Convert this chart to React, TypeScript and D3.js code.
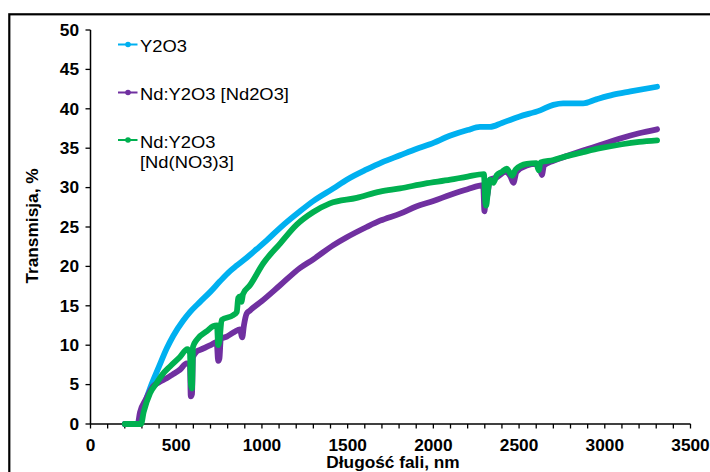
import React from "react";
import * as d3 from "d3";

const blueWl = [200, 280, 300, 347, 400, 445, 483, 540, 580, 639, 700, 755, 814, 853, 911, 970, 1028, 1106, 1222, 1300, 1417, 1495, 1611, 1700, 1806, 1900, 1980, 2100, 2200, 2272, 2330, 2400, 2500, 2623, 2700, 2757, 2874, 2950, 3050, 3150, 3305];
const blueT = [0, 0, 1.5, 4.5, 7.3, 9.6, 11.2, 13.1, 14.2, 15.5, 16.8, 18.1, 19.4, 20.1, 21.1, 22.2, 23.3, 24.9, 27.0, 28.3, 29.9, 31.0, 32.3, 33.2, 34.1, 34.9, 35.5, 36.6, 37.3, 37.7, 37.7, 38.2, 39.0, 39.8, 40.5, 40.7, 40.7, 41.2, 41.8, 42.2, 42.8];

const purpleWl = [200, 275, 289, 320, 366, 400, 444, 480, 522, 561, 580, 585, 592, 598, 620, 639, 700, 736, 745, 752, 760, 795, 840, 872, 885, 895, 911, 930, 1000, 1106, 1222, 1300, 1417, 1495, 1611, 1689, 1806, 1900, 2000, 2100, 2200, 2291, 2298, 2305, 2315, 2330, 2370, 2420, 2450, 2467, 2485, 2545, 2600, 2620, 2633, 2645, 2700, 2778, 2873, 2973, 3100, 3200, 3305];
const purpleT = [0, 0, 1.5, 3.0, 4.8, 5.3, 5.8, 6.3, 6.9, 7.7, 7.5, 3.5, 3.8, 8.5, 9.2, 9.4, 10.0, 10.4, 8.0, 8.3, 10.8, 11.1, 11.7, 12.0, 11.0, 12.5, 14.0, 14.4, 15.6, 17.6, 19.8, 20.9, 22.7, 23.7, 25.0, 25.8, 26.7, 27.6, 28.3, 29.1, 29.8, 30.3, 27.0, 28.5, 29.0, 31.0, 31.3, 32.0, 31.4, 30.6, 32.0, 32.8, 33.0, 32.5, 31.6, 32.8, 33.4, 34.0, 34.7, 35.4, 36.3, 36.9, 37.4];

const greenWl = [200, 295, 310, 347, 386, 420, 464, 522, 565, 580, 586, 592, 598, 620, 680, 715, 738, 745, 752, 765, 832, 853, 862, 872, 880, 890, 930, 1008, 1106, 1203, 1300, 1397, 1553, 1689, 1806, 1950, 2100, 2200, 2295, 2302, 2308, 2318, 2330, 2350, 2370, 2400, 2428, 2460, 2480, 2545, 2600, 2615, 2625, 2700, 2778, 2873, 2973, 3100, 3200, 3305];
const greenT = [0, 0, 1.5, 3.9, 5.2, 6.3, 7.3, 8.5, 9.5, 9.0, 5.0, 4.5, 9.8, 10.7, 11.8, 12.4, 12.5, 10.0, 10.5, 13.2, 13.8, 14.2, 16.0, 16.2, 15.5, 16.5, 17.6, 20.4, 22.9, 25.3, 26.9, 28.0, 28.7, 29.5, 29.9, 30.5, 31.0, 31.4, 31.7, 28.5, 27.7, 29.5, 31.0, 30.6, 31.6, 32.0, 32.4, 31.5, 32.3, 33.0, 33.1, 32.2, 33.2, 33.5, 34.0, 34.5, 35.0, 35.5, 35.8, 36.0];

const seriesNames = ["Y2O3", "Nd:Y2O3 [Nd2O3]", "Nd:Y2O3 [Nd(NO3)3]"];
const seriesColors = ["#00B0F0", "#7030A0", "#00B050"];
const xTicks = [0, 500, 1000, 1500, 2000, 2500, 3000, 3500];
const yTicks = [0, 5, 10, 15, 20, 25, 30, 35, 40, 45, 50];
const xTitle = "Długość fali, nm";
const yTitle = "Transmisja, %";

export default function App() {
  const x = d3.scaleLinear().domain([0, 3500]).range([90.5, 690.5]);
  const y = d3.scaleLinear().domain([0, 50]).range([424, 30]);
  const line = d3
    .line<[number, number]>()
    .x((d) => x(d[0]))
    .y((d) => y(d[1]))
    .curve(d3.curveMonotoneX);
  const series = [
    d3.zip(blueWl, blueT) as [number, number][],
    d3.zip(purpleWl, purpleT) as [number, number][],
    d3.zip(greenWl, greenT) as [number, number][],
  ];
  const minor = d3.range(0, 3501, 100);
  const font = "'Liberation Sans', Arial, sans-serif";
  const sx = 1.08;

  return (
    <svg
      width={710}
      height={472}
      style={{ position: "absolute", left: 0, top: 0, background: "#fff" }}
      fontFamily={font}
    >
      <rect x={0} y={0} width={710} height={472} fill="#fff" />
      <rect x={9.3} y={14.3} width={760} height={520} fill="none" stroke="#000" strokeWidth={2.2} />

      {/* x axis */}
      <line x1={x(0)} x2={x(3500)} y1={y(0)} y2={y(0)} stroke="#000" strokeWidth={1.5} />
      {minor.map((t) => (
        <line key={"m" + t} x1={x(t)} x2={x(t)} y1={y(0)} y2={y(0) + 4.5} stroke="#000" strokeWidth={1.3} />
      ))}
      {xTicks.map((t) => (
        <text
          key={"xt" + t}
          transform={`translate(${x(t)},451) scale(${sx},1)`}
          textAnchor="middle"
          fontSize={16}
          fontWeight="bold"
          fill="#000"
        >
          {t}
        </text>
      ))}

      {/* y axis */}
      <line x1={x(0)} x2={x(0)} y1={y(0)} y2={y(50)} stroke="#000" strokeWidth={1.5} />
      {yTicks.map((t) => (
        <g key={"yt" + t}>
          <line x1={x(0) - 5} x2={x(0)} y1={y(t)} y2={y(t)} stroke="#000" strokeWidth={1.3} />
          <text
            transform={`translate(79,${y(t) + 5.7}) scale(${sx},1)`}
            textAnchor="end"
            fontSize={16}
            fontWeight="bold"
            fill="#000"
          >
            {t}
          </text>
        </g>
      ))}

      {/* axis titles */}
      <text
        transform={`translate(393,468) scale(${sx},1)`}
        textAnchor="middle"
        fontSize={16}
        fontWeight="bold"
        fill="#000"
      >
        {xTitle}
      </text>
      <text
        transform={`translate(38,226) rotate(-90) scale(${sx},1)`}
        textAnchor="middle"
        fontSize={16}
        fontWeight="bold"
        fill="#000"
      >
        {yTitle}
      </text>

      {/* series */}
      {series.map((s, i) => (
        <path
          key={"s" + i}
          d={line(s) || ""}
          fill="none"
          stroke={seriesColors[i]}
          strokeWidth={5.8}
          strokeLinejoin="round"
          strokeLinecap="round"
        />
      ))}

      {/* legend */}
      {[44.5, 92.5, 140].map((ly, i) => (
        <g key={"lg" + i}>
          <line x1={118} x2={137.5} y1={ly} y2={ly} stroke={seriesColors[i]} strokeWidth={2} />
          <circle cx={128} cy={ly} r={2.8} fill={seriesColors[i]} />
        </g>
      ))}
      <text transform={`translate(140,51.5) scale(${sx},1)`} fontSize={17} fill="#000">
        {seriesNames[0]}
      </text>
      <text transform={`translate(140,99.5) scale(${sx},1)`} fontSize={17} fill="#000">
        {seriesNames[1]}
      </text>
      <text transform={`translate(140,147.5) scale(${sx},1)`} fontSize={17} fill="#000">
        {seriesNames[2].split(" ")[0]}
      </text>
      <text transform={`translate(140,167.5) scale(${sx},1)`} fontSize={17} fill="#000">
        {seriesNames[2].split(" ")[1]}
      </text>
    </svg>
  );
}
